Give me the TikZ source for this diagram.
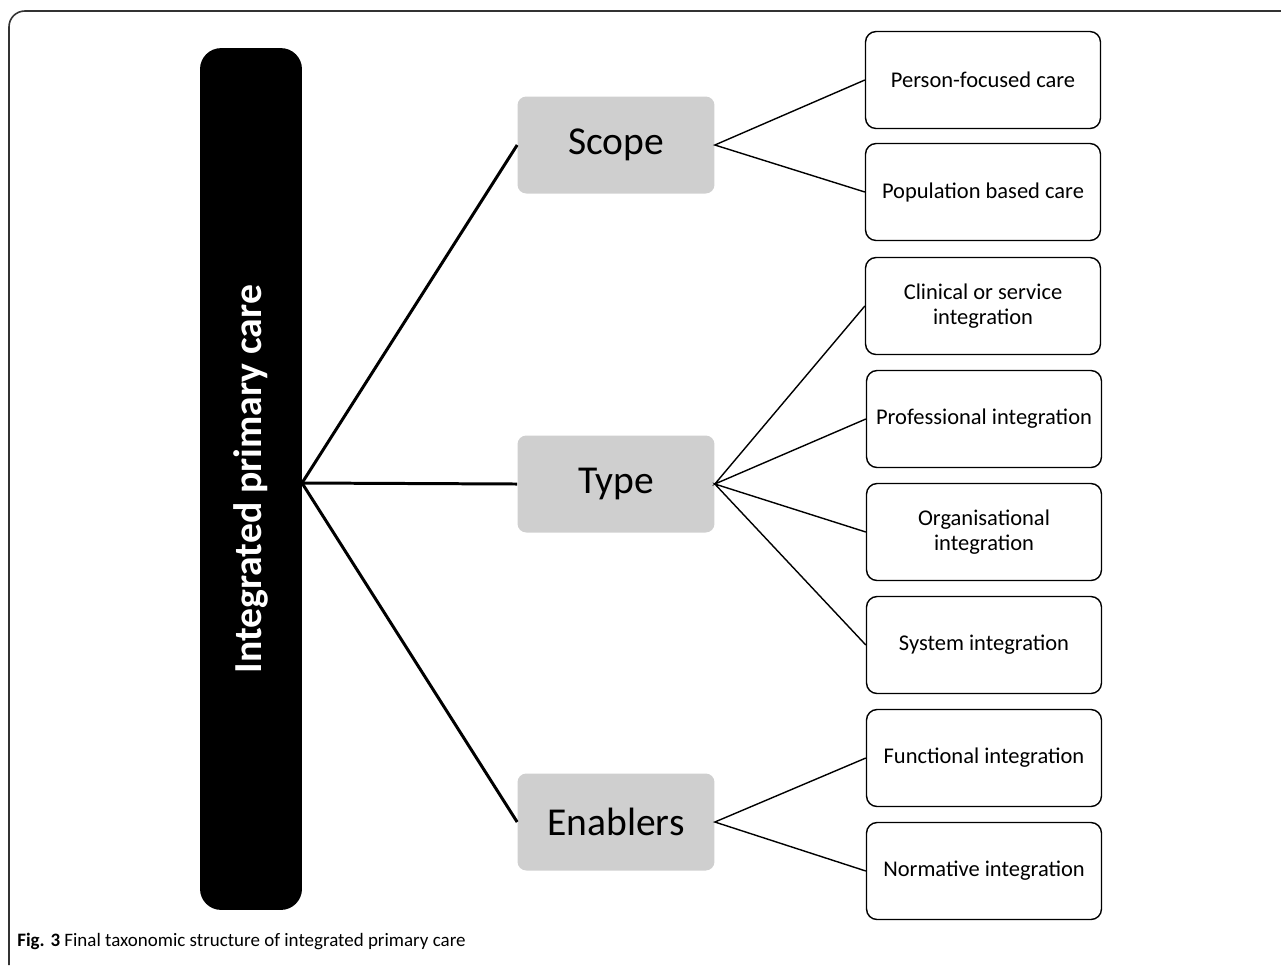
\documentclass[tikz,border=0pt]{standalone}
\usepackage{fontspec}
\setmainfont{Carlito}
\tikzset{
    trunk/.style = {fill=black, rounded corners=12pt, minimum width=2.04cm, minimum height=17.24cm, text=white, font=\fontsize{22.6}{26}\selectfont\bfseries},
    branch/.style = {fill=gray!38, rounded corners=5pt, minimum width=3.94cm, minimum height=1.94cm, font=\fontsize{22.5}{26}\selectfont},
    leaf/.style = {draw, line width=0.8pt, rounded corners=6pt, minimum width=4.7cm, minimum height=1.94cm, align=center, font=\fontsize{12.8}{14.5}\selectfont},
    thick link/.style = {line width=1.7pt},
    thin link/.style = {line width=0.8pt}
}
\begin{document}
\begin{tikzpicture}[x=0.02cm, y=-0.02cm]
        \useasboundingbox (0,0) rectangle (1281,965);

        % frame
        \draw[line width=0.9pt, black!80, rounded corners=9pt] (9,965) -- (9,11) -- (1281,11);

        % main bar
        \node[trunk] (care) at (251,479) {\rotatebox{90}{Integrated primary care}};
        \coordinate (hub) at (302,483);

        % middle level
        \node[branch] (scope) at (616,145) {Scope};
        \node[branch] (type) at (616,484) {Type};
        \node[branch] (enablers) at (616,822) {Enablers};

        % leaves
        \node[leaf] (person) at (983,80) {Person-focused care};
        \node[leaf] (population) at (983,192) {Population based care};
        \node[leaf] (clinical) at (983,306) {Clinical or service\\integration};
        \node[leaf] (professional) at (984,419) {Professional integration};
        \node[leaf] (organisational) at (984,532) {Organisational\\integration};
        \node[leaf] (system) at (984,645) {System integration};
        \node[leaf] (functional) at (984,758) {Functional integration};
        \node[leaf] (normative) at (984,871) {Normative integration};

        \draw[thick link] (hub) -- (scope.west);
        \draw[thick link] (hub) -- (type.west);
        \draw[thick link] (hub) -- (enablers.west);

        \draw[thin link] (person.west) -- (scope.east) -- (population.west);
        \draw[thin link] (clinical.west) -- (type.east) -- (professional.west);
        \draw[thin link] (organisational.west) -- (type.east) -- (system.west);
        \draw[thin link] (functional.west) -- (enablers.east) -- (normative.west);

        % caption
        \node[anchor=base west, inner sep=0pt, font=\fontsize{10.8}{12}\selectfont] (caption) at (17,946) {\textbf{Fig. 3} Final taxonomic structure of integrated primary care};
\end{tikzpicture}
\end{document}
